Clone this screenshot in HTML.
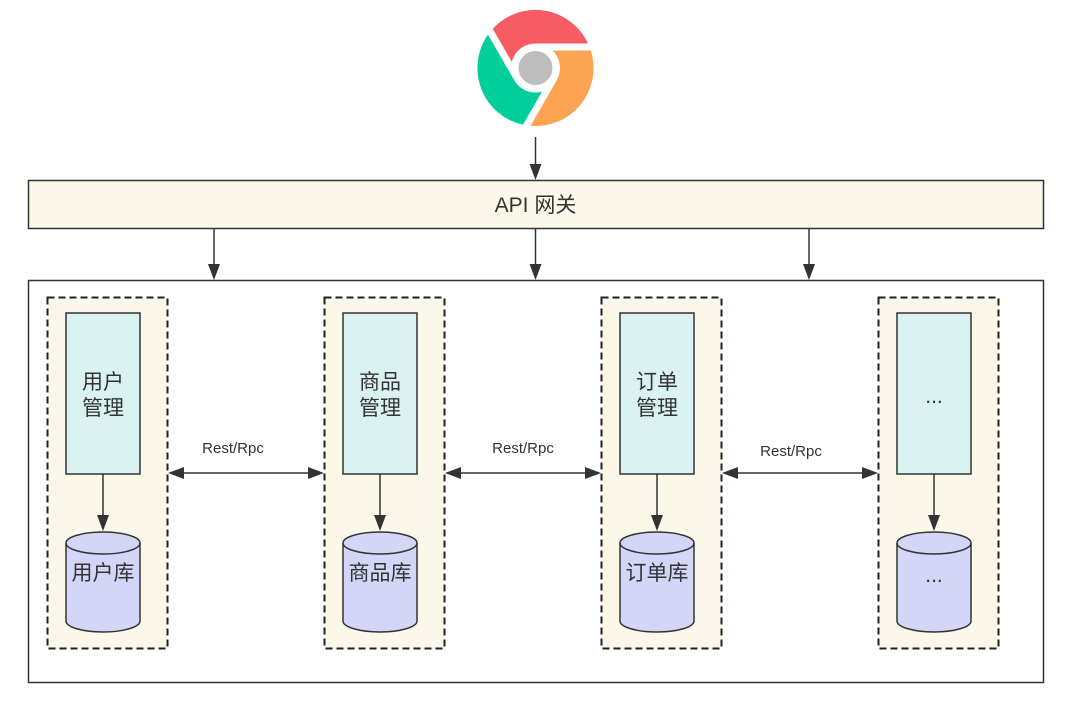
<!DOCTYPE html>
<html><head><meta charset="utf-8"><style>
html,body{margin:0;padding:0;background:#fff;}
svg{display:block;}
text{font-family:"Liberation Sans","Noto Sans CJK SC",sans-serif;fill:#333;}
</style></head><body>
<svg width="1070" height="710" viewBox="0 0 1070 710" xmlns="http://www.w3.org/2000/svg">
<g stroke="#fff" stroke-width="7" stroke-linejoin="round">
<path d="M535.5,47 L593.3,47 A61.5,61.5 0 0 0 488.4,28.4 L517.3,78.5 A21,21 0 0 1 535.5,47 Z" fill="#f75c63"/>
<path d="M553.7,78.5 L524.8,128.6 A61.5,61.5 0 0 0 593.3,47 L535.5,47 A21,21 0 0 1 553.7,78.5 Z" fill="#fda453"/>
<path d="M517.3,78.5 L488.4,28.4 A61.5,61.5 0 0 0 524.8,128.6 L553.7,78.5 A21,21 0 0 1 517.3,78.5 Z" fill="#00cf9c"/>
</g>
<circle cx="535.5" cy="68" r="17" fill="#bdbdbd"/>
<line x1="535.5" y1="137" x2="535.5" y2="164" stroke="#333" stroke-width="1.5"/>
<path d="M529.5,164 L541.5,164 L535.5,180 Z" fill="#333"/>
<rect x="28.5" y="180.5" width="1015" height="48" fill="#fbf8ea" stroke="#333" stroke-width="1.5"/>
<text x="535.5" y="212" font-size="21" text-anchor="middle">API 网关</text>
<g stroke="#333" stroke-width="1.5">
<line x1="214" y1="229" x2="214" y2="264"/><line x1="535.5" y1="229" x2="535.5" y2="264"/><line x1="809" y1="229" x2="809" y2="264"/>
</g>
<g fill="#333"><path d="M208,264 L220,264 L214,280 Z"/><path d="M529.5,264 L541.5,264 L535.5,280 Z"/><path d="M803,264 L815,264 L809,280 Z"/></g>
<rect x="28.5" y="280.5" width="1015" height="402" fill="#fff" stroke="#333" stroke-width="1.5"/>

<g>
<rect x="47.5" y="297.5" width="120" height="351" fill="#fbf8ea" stroke="#222" stroke-width="2" stroke-dasharray="7,4"/>
<rect x="324.5" y="297.5" width="120" height="351" fill="#fbf8ea" stroke="#222" stroke-width="2" stroke-dasharray="7,4"/>
<rect x="601.5" y="297.5" width="120" height="351" fill="#fbf8ea" stroke="#222" stroke-width="2" stroke-dasharray="7,4"/>
<rect x="878.5" y="297.5" width="120" height="351" fill="#fbf8ea" stroke="#222" stroke-width="2" stroke-dasharray="7,4"/>
</g>
<g fill="#daf3f2" stroke="#333" stroke-width="1.5">
<rect x="66" y="313" width="74" height="161"/>
<rect x="343" y="313" width="74" height="161"/>
<rect x="620" y="313" width="74" height="161"/>
<rect x="897" y="313" width="74" height="161"/>
</g>
<g font-size="21" text-anchor="middle">
<text x="103" y="389">用户</text><text x="103" y="415">管理</text>
<text x="380" y="389">商品</text><text x="380" y="415">管理</text>
<text x="657" y="389">订单</text><text x="657" y="415">管理</text>
<text x="934" y="403">...</text>
</g>
<g stroke="#333" stroke-width="1.5">
<line x1="103" y1="474" x2="103" y2="516"/><line x1="380" y1="474" x2="380" y2="516"/><line x1="657" y1="474" x2="657" y2="516"/><line x1="934" y1="474" x2="934" y2="516"/>
</g>
<g fill="#333"><path d="M97,515 L109,515 L103,531 Z"/><path d="M374,515 L386,515 L380,531 Z"/><path d="M651,515 L663,515 L657,531 Z"/><path d="M928,515 L940,515 L934,531 Z"/></g>
<g fill="#d3d6f7" stroke="#333" stroke-width="1.5">
<path d="M66,543 A37,11 0 0 1 140,543 L140,621 A37,11 0 0 1 66,621 Z"/><path d="M66,543 A37,11 0 0 0 140,543" fill="none"/>
<path d="M343,543 A37,11 0 0 1 417,543 L417,621 A37,11 0 0 1 343,621 Z"/><path d="M343,543 A37,11 0 0 0 417,543" fill="none"/>
<path d="M620,543 A37,11 0 0 1 694,543 L694,621 A37,11 0 0 1 620,621 Z"/><path d="M620,543 A37,11 0 0 0 694,543" fill="none"/>
<path d="M897,543 A37,11 0 0 1 971,543 L971,621 A37,11 0 0 1 897,621 Z"/><path d="M897,543 A37,11 0 0 0 971,543" fill="none"/>
</g>
<g font-size="21" text-anchor="middle">
<text x="103" y="580">用户库</text><text x="380" y="580">商品库</text><text x="657" y="580">订单库</text><text x="934" y="582">...</text>
</g>
<g stroke="#333" stroke-width="1.5">
<line x1="182" y1="473" x2="309" y2="473"/><line x1="459" y1="473" x2="586" y2="473"/><line x1="736" y1="473" x2="863" y2="473"/>
</g>
<g fill="#333">
<path d="M168,473 L184,467 L184,479 Z"/><path d="M324,473 L308,467 L308,479 Z"/>
<path d="M445,473 L461,467 L461,479 Z"/><path d="M601,473 L585,467 L585,479 Z"/>
<path d="M722,473 L738,467 L738,479 Z"/><path d="M878,473 L862,467 L862,479 Z"/>
</g>
<g font-size="15" text-anchor="middle">
<text x="233" y="453">Rest/Rpc</text><text x="523" y="453">Rest/Rpc</text><text x="791" y="456">Rest/Rpc</text>
</g>
</svg>
</body></html>
